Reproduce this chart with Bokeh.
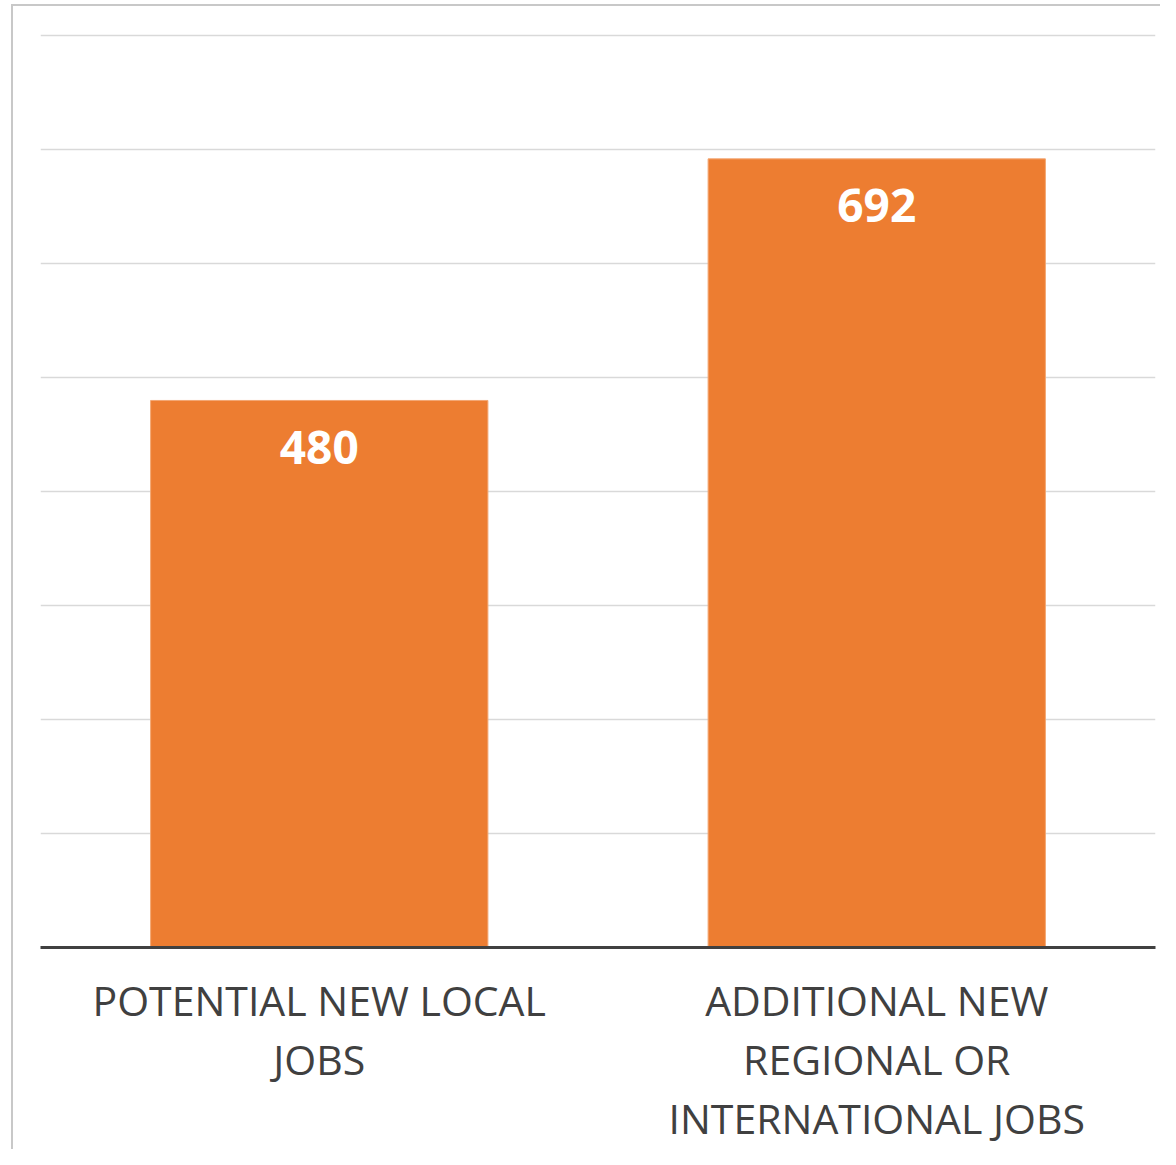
from bokeh.plotting import figure
from bokeh.models import ColumnDataSource, Range1d, FactorRange, SingleIntervalTicker
from bokeh.core.properties import value
from bokeh.embed import file_html
from bokeh.resources import INLINE

categories = ["POTENTIAL NEW LOCAL\nJOBS", "ADDITIONAL NEW\nREGIONAL OR\nINTERNATIONAL JOBS"]
jobs = [480, 692]
labels = ["480", "692"]

src = ColumnDataSource(dict(cat=categories, val=jobs, lab=labels))

W, H = 1160, 1149
p = figure(width=W, height=H, x_range=FactorRange(*categories, range_padding=0),
           y_range=Range1d(0, 802), output_backend="svg", toolbar_location=None,
           min_border_left=40, min_border_right=5, min_border_top=33, min_border_bottom=178)
p.styles = {"background": "linear-gradient(#c8c8c8,#c8c8c8) 11px 4px / 2px 100% no-repeat, "
                          "linear-gradient(#c8c8c8,#c8c8c8) 11px 4px / 100% 2px no-repeat, white"}
p.outline_line_color = None
p.background_fill_color = "white"
p.border_fill_color = None

p.vbar(x="cat", top="val", width=0.605, source=src, fill_color="#ED7D31", line_color="#F3A772", line_width=1)
p.text(x="cat", y="val", text="lab", source=src, y_offset=47, text_align="center", text_baseline="middle",
       text_color="white", text_font=value("Open Sans"), text_font_style="bold", text_font_size="46px")

p.yaxis.visible = False
p.yaxis.ticker = SingleIntervalTicker(interval=100)
p.ygrid.ticker = SingleIntervalTicker(interval=100)
p.ygrid.grid_line_color = "#d9d9d9"
p.ygrid.grid_line_width = 1.5
p.xgrid.grid_line_color = None

xa = p.xaxis[0]
xa.axis_line_color = "#404040"
xa.axis_line_width = 3
xa.major_tick_line_color = None
xa.minor_tick_line_color = None
xa.major_label_text_font = "Open Sans"
xa.major_label_text_font_size = "41px"
xa.major_label_text_line_height = 1.06
xa.major_label_text_color = "#404040"
xa.major_label_standoff = 18

open("out.html", "w").write(file_html(p, INLINE))
